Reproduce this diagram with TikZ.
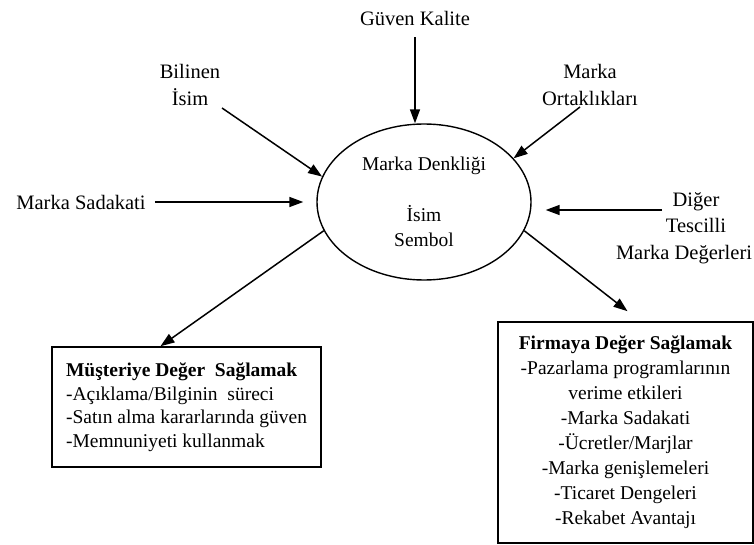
\documentclass[tikz,border=0pt]{standalone}
\usepackage{fontspec}
\setmainfont{Liberation Serif}
\usetikzlibrary{arrows.meta,shapes.geometric}
\begin{document}
\begin{tikzpicture}[x=1pt,y=-1pt,
  lbl/.style={font=\fontsize{20.5}{26.5}\selectfont, align=center, inner sep=2pt},
  arr/.style={line width=1.5pt, -{Triangle[length=14pt,width=10pt]}},
  core/.style={draw, ellipse, line width=1.4pt, minimum width=214pt, minimum height=156pt,
    align=center, inner sep=0pt, font=\fontsize{19.5}{25}\selectfont},
  panel/.style={draw, line width=1.6pt, inner sep=0pt}
]
\useasboundingbox (0,0) rectangle (754,545);

% central brand-equity ellipse
\node[core] (ell) at (424,202) {Marka Denkliği\\[26pt]İsim\\Sembol};

% input labels
\node[lbl] (guven) at (415,18) {Güven Kalite};
\node[lbl] (bilinen) at (190,85) {Bilinen\\İsim};
\node[lbl] (ortak) at (590,85) {Marka\\Ortaklıkları};
\node[lbl] (sadakat) at (81,202) {Marka Sadakati};
\node[lbl] (diger) at (696,228) {Diğer\\Tescilli\\\makebox[160pt][l]{Marka Değerleri}};

% output boxes
\node[panel, minimum width=269pt, minimum height=120pt, align=left,
  font=\fontsize{19.5}{23.5}\selectfont] (lbox) at (186.5,407)
  {\textbf{Müşteriye Değer~ Sağlamak}\\-Açıklama/Bilginin~ süreci\\-Satın alma kararlarında güven\\-Memnuniyeti kullanmak};
\node[panel, minimum width=255pt, minimum height=221pt, align=center,
  font=\fontsize{19.5}{25}\selectfont] (rbox) at (625.5,432.5)
  {\textbf{Firmaya Değer Sağlamak}\\-Pazarlama programlarının\\verime etkileri\\-Marka Sadakati\\-Ücretler/Marjlar\\-Marka genişlemeleri\\-Ticaret Dengeleri\\-Rekabet Avantajı};

% incoming arrows
\coordinate (bs) at (222,108);
\coordinate (os) at (580,107);
\coordinate (ds) at (662,210);
\draw[arr, shorten <=10pt] (guven) -- (guven |- ell.north);
\draw[arr] (bs) -- (ell.166);
\draw[arr] (os) -- (ell.26);
\draw[arr, shorten <=7pt, shorten >=13pt] (sadakat) -- (ell);
\draw[arr, shorten >=14pt] (ds) -- (ds -| ell.east);

% outgoing arrows
\draw[arr] (ell.196) -- ([xshift=-26pt]lbox.north);
\draw[arr] (ell.-16) -- ([xshift=2pt,yshift=10pt]rbox.north);
\end{tikzpicture}
\end{document}
